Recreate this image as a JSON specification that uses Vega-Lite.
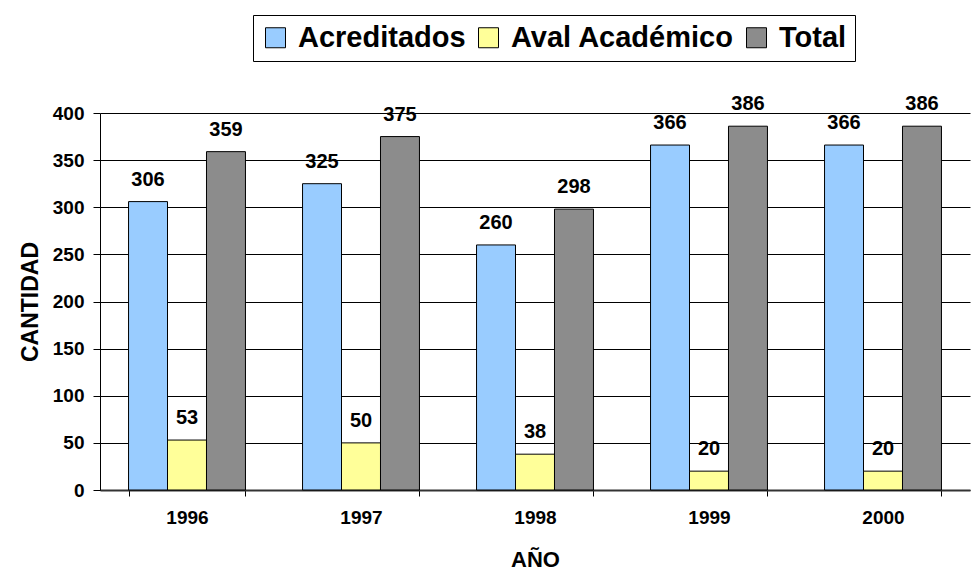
{
  "$schema": "https://vega.github.io/schema/vega-lite/v6.json",
  "width": 870,
  "height": 377,
  "autosize": "none",
  "padding": {"left": 100, "top": 113, "right": 1, "bottom": 80},
  "background": "white",
  "config": {
    "font": "Liberation Sans",
    "view": {"stroke": null}
  },
  "data": {
    "values": [
      {"anio": "1996", "serie": "Acreditados", "cantidad": 306},
      {"anio": "1996", "serie": "Aval Académico", "cantidad": 53},
      {"anio": "1996", "serie": "Total", "cantidad": 359},
      {"anio": "1997", "serie": "Acreditados", "cantidad": 325},
      {"anio": "1997", "serie": "Aval Académico", "cantidad": 50},
      {"anio": "1997", "serie": "Total", "cantidad": 375},
      {"anio": "1998", "serie": "Acreditados", "cantidad": 260},
      {"anio": "1998", "serie": "Aval Académico", "cantidad": 38},
      {"anio": "1998", "serie": "Total", "cantidad": 298},
      {"anio": "1999", "serie": "Acreditados", "cantidad": 366},
      {"anio": "1999", "serie": "Aval Académico", "cantidad": 20},
      {"anio": "1999", "serie": "Total", "cantidad": 386},
      {"anio": "2000", "serie": "Acreditados", "cantidad": 366},
      {"anio": "2000", "serie": "Aval Académico", "cantidad": 20},
      {"anio": "2000", "serie": "Total", "cantidad": 386}
    ]
  },
  "encoding": {
    "x": {
      "field": "anio",
      "type": "nominal",
      "scale": {"paddingInner": 0.328, "paddingOuter": 0.164},
      "axis": {
        "title": "AÑO",
        "titleFontSize": 22,
        "titleFontWeight": "bold",
        "titleColor": "black",
        "titlePadding": 22,
        "labelAngle": 0,
        "labelFontSize": 19,
        "labelFontWeight": "bold",
        "labelColor": "black",
        "labelPadding": 12,
        "tickBand": "extent",
        "tickColor": "black",
        "tickSize": 6,
        "domainColor": "#333333",
        "domainWidth": 2,
        "grid": false
      }
    },
    "xOffset": {"field": "serie", "type": "nominal", "scale": {"paddingInner": 0, "paddingOuter": 0}},
    "y": {
      "field": "cantidad",
      "type": "quantitative",
      "scale": {"domain": [0, 400], "nice": false},
      "axis": {
        "title": "CANTIDAD",
        "titleFontSize": 23,
        "titleFontWeight": "bold",
        "titleColor": "black",
        "titlePadding": 10,
        "values": [0, 50, 100, 150, 200, 250, 300, 350, 400],
        "labelFontSize": 19,
        "labelFontWeight": "bold",
        "labelColor": "black",
        "labelPadding": 9,
        "tickColor": "black",
        "tickSize": 7,
        "domainColor": "black",
        "gridColor": "black",
        "gridOpacity": 1,
        "gridWidth": 1
      }
    }
  },
  "layer": [
    {
      "mark": {"type": "bar", "stroke": "black", "strokeWidth": 1},
      "encoding": {
        "color": {
          "field": "serie",
          "type": "nominal",
          "scale": {
            "domain": ["Acreditados", "Aval Académico", "Total"],
            "range": ["#99CCFF", "#FFFF99", "#8c8c8c"]
          },
          "legend": {
            "title": null,
            "orient": "none",
            "legendX": 153,
            "legendY": -98,
            "direction": "horizontal",
            "labelFontSize": 29,
            "labelFontWeight": "bold",
            "labelColor": "black",
            "labelOffset": 8,
            "symbolType": "square",
            "symbolSize": 400,
            "symbolStrokeColor": "black",
            "symbolStrokeWidth": 1,
            "symbolOpacity": 1,
            "columnPadding": 8,
            "labelLimit": 400,
            "strokeColor": "black",
            "padding": 8
          }
        }
      }
    },
    {
      "mark": {"type": "text", "baseline": "alphabetic", "dy": -16, "fontSize": 20, "fontWeight": "bold", "color": "black"},
      "encoding": {
        "text": {"field": "cantidad", "type": "quantitative"}
      }
    }
  ]
}
